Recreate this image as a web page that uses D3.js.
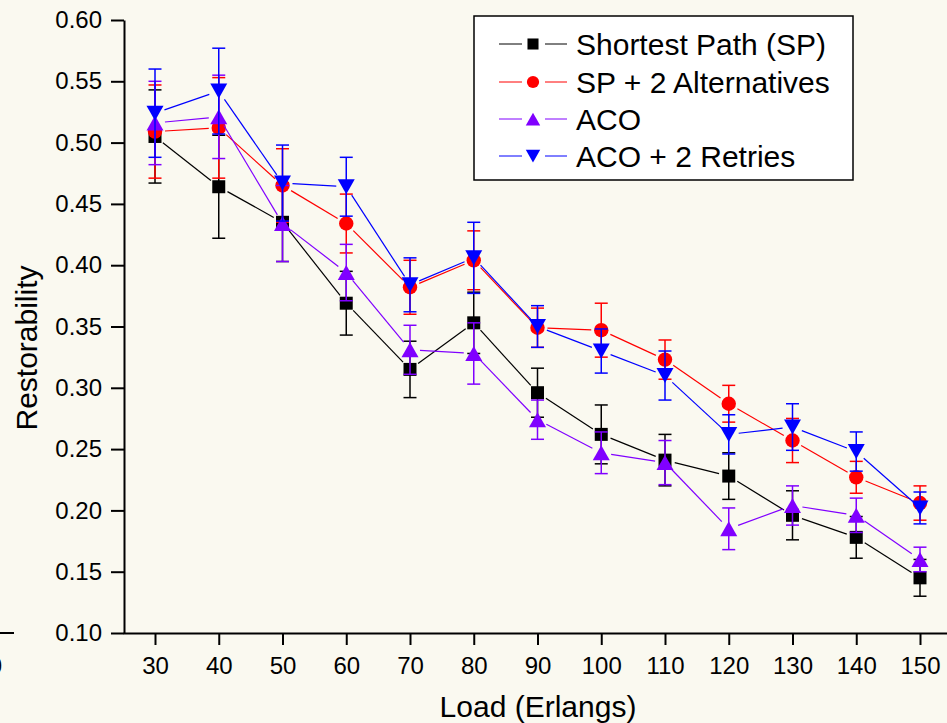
<!DOCTYPE html>
<html>
<head>
<meta charset="utf-8">
<script src="https://cdn.jsdelivr.net/npm/d3@7"></script>
<style>
  html, body { margin: 0; padding: 0; background: #faf9f0; }
  svg { display: block; font-family: "Liberation Sans", Arial, sans-serif; }
</style>
</head>
<body>
<div id="chart"></div>
<script>
// loads (Erlangs) on the x axis
var loads = [30, 40, 50, 60, 70, 80, 90, 100, 110, 120, 130, 140, 150];

// restorability per series, with error bar half-widths
var spVals     = [0.505, 0.464, 0.435, 0.369, 0.315, 0.353, 0.296, 0.262, 0.241, 0.228, 0.196, 0.178, 0.145];
var spErr      = [0.038, 0.042, 0.032, 0.026, 0.023, 0.025, 0.020, 0.024, 0.021, 0.019, 0.020, 0.017, 0.015];
var altVals    = [0.509, 0.512, 0.465, 0.434, 0.382, 0.404, 0.349, 0.347, 0.323, 0.287, 0.257, 0.227, 0.206];
var altErr     = [0.038, 0.041, 0.030, 0.024, 0.022, 0.024, 0.016, 0.022, 0.016, 0.015, 0.018, 0.013, 0.014];
var acoVals    = [0.516, 0.521, 0.434, 0.394, 0.331, 0.328, 0.274, 0.247, 0.239, 0.185, 0.204, 0.196, 0.160];
var acoErr     = [0.034, 0.034, 0.031, 0.023, 0.020, 0.025, 0.016, 0.017, 0.018, 0.017, 0.016, 0.014, 0.010];
var retryVals  = [0.524, 0.542, 0.467, 0.464, 0.384, 0.406, 0.350, 0.330, 0.310, 0.262, 0.268, 0.248, 0.202];
var retryErr   = [0.036, 0.035, 0.031, 0.024, 0.022, 0.029, 0.017, 0.018, 0.020, 0.016, 0.019, 0.016, 0.013];

var seriesNames = ["Shortest Path (SP)", "SP + 2 Alternatives", "ACO", "ACO + 2 Retries"];
var yTicks = [0.10, 0.15, 0.20, 0.25, 0.30, 0.35, 0.40, 0.45, 0.50, 0.55, 0.60];

var series = [
  {name: seriesNames[0], vals: spVals,    err: spErr,    color: "#000000", shape: "square"},
  {name: seriesNames[1], vals: altVals,   err: altErr,   color: "#ff0000", shape: "circle"},
  {name: seriesNames[2], vals: acoVals,   err: acoErr,   color: "#8000ff", shape: "up"},
  {name: seriesNames[3], vals: retryVals, err: retryErr, color: "#0000ff", shape: "down"}
];

var width = 947, height = 723;

var svg = d3.select("#chart").append("svg")
    .attr("width", width)
    .attr("height", height);

svg.append("rect")
    .attr("width", width).attr("height", height)
    .attr("fill", "#faf9f0");

// scales
var x = d3.scaleLinear().domain([25, 155]).range([123.125, 951.875]);
var y = d3.scaleLinear().domain([0.10, 0.60]).range([633, 20]);

// marker path centred on the point
function markerPath(shape) {
  if (shape == "square") return "M-6.5,-6.5H6.5V6.5H-6.5Z";
  if (shape == "circle") return d3.symbol().type(d3.symbolCircle).size(Math.PI * 7.2 * 7.2)();
  if (shape == "up") return "M0,-7.5L8.5,7.5L-8.5,7.5Z";
  return "M0,7.5L8.5,-7.5L-8.5,-7.5Z";
}

// piece of a neighbouring panel cut off at the left edge
svg.append("line")
    .attr("x1", 0).attr("x2", 14).attr("y1", 633).attr("y2", 633)
    .attr("stroke", "#000").attr("stroke-width", 2);
svg.append("text")
    .attr("x", 2).attr("y", 674)
    .attr("text-anchor", "end")
    .style("font-size", "24px")
    .text("0");

// x axis
var xAxis = svg.append("g")
    .attr("transform", "translate(0,633)")
    .call(d3.axisBottom(x).tickValues(loads).tickSize(12).tickSizeOuter(0).tickPadding(12));
xAxis.select(".domain").attr("stroke-width", 2);
xAxis.selectAll(".tick line").attr("stroke-width", 2);
xAxis.selectAll("text").style("font-size", "24px").attr("fill", "#000");

// y axis
var yAxis = svg.append("g")
    .attr("transform", "translate(124,0)")
    .call(d3.axisLeft(y).tickValues(yTicks).tickFormat(d3.format(".2f")).tickSize(13).tickSizeOuter(0).tickPadding(9));
yAxis.select(".domain").attr("stroke-width", 2);
yAxis.selectAll(".tick line").attr("stroke-width", 2);
yAxis.selectAll("text").style("font-size", "24px").attr("fill", "#000");

// axis titles
svg.append("text")
    .attr("x", 538).attr("y", 717)
    .attr("text-anchor", "middle")
    .style("font-size", "30px")
    .text("Load (Erlangs)");

svg.append("text")
    .attr("transform", "translate(37,348) rotate(-90)")
    .attr("text-anchor", "middle")
    .style("font-size", "30px")
    .text("Restorability");

// series: error bars, connecting segments with a small gap, markers
var gap = 10;
series.forEach(function(s) {
  var g = svg.append("g");
  var pts = loads.map(function(l, i) {
    return {x: x(l), y: y(s.vals[i]), lo: y(s.vals[i] - s.err[i]), hi: y(s.vals[i] + s.err[i])};
  });

  pts.forEach(function(p) {
    g.append("line")
      .attr("x1", p.x).attr("x2", p.x).attr("y1", p.lo).attr("y2", p.hi)
      .attr("stroke", s.color).attr("stroke-width", 1.5);
    [p.lo, p.hi].forEach(function(cy) {
      g.append("line")
        .attr("x1", p.x - 6.5).attr("x2", p.x + 6.5).attr("y1", cy).attr("y2", cy)
        .attr("stroke", s.color).attr("stroke-width", 1.5);
    });
  });

  for (var i = 0; i < pts.length - 1; i++) {
    var a = pts[i], b = pts[i + 1];
    var dx = b.x - a.x, dy = b.y - a.y, len = Math.sqrt(dx * dx + dy * dy);
    var ux = dx / len, uy = dy / len;
    g.append("line")
      .attr("x1", a.x + ux * gap).attr("y1", a.y + uy * gap)
      .attr("x2", b.x - ux * gap).attr("y2", b.y - uy * gap)
      .attr("stroke", s.color).attr("stroke-width", 1.2);
  }

  g.selectAll(".mark")
      .data(pts)
    .enter().append("path")
      .attr("class", "mark")
      .attr("d", markerPath(s.shape))
      .attr("transform", function(p) { return "translate(" + p.x + "," + p.y + ")"; })
      .attr("fill", s.color);
});

// legend
var legend = svg.append("g");
legend.append("rect")
    .attr("x", 474).attr("y", 16).attr("width", 379).attr("height", 164)
    .attr("fill", "#fff").attr("stroke", "#000").attr("stroke-width", 1.5);

var legendY = [44, 82, 119, 156];
series.forEach(function(s, i) {
  var ly = legendY[i];
  legend.append("line")
    .attr("x1", 499).attr("x2", 522).attr("y1", ly).attr("y2", ly)
    .attr("stroke", s.color).attr("stroke-width", 1);
  legend.append("line")
    .attr("x1", 545).attr("x2", 567).attr("y1", ly).attr("y2", ly)
    .attr("stroke", s.color).attr("stroke-width", 1);
  legend.append("path")
    .attr("d", markerPath(s.shape))
    .attr("transform", "translate(533," + ly + ") scale(0.85)")
    .attr("fill", s.color);
  legend.append("text")
    .attr("x", 576).attr("y", ly + 11)
    .style("font-size", "30px")
    .text(s.name);
});
</script>
</body>
</html>
